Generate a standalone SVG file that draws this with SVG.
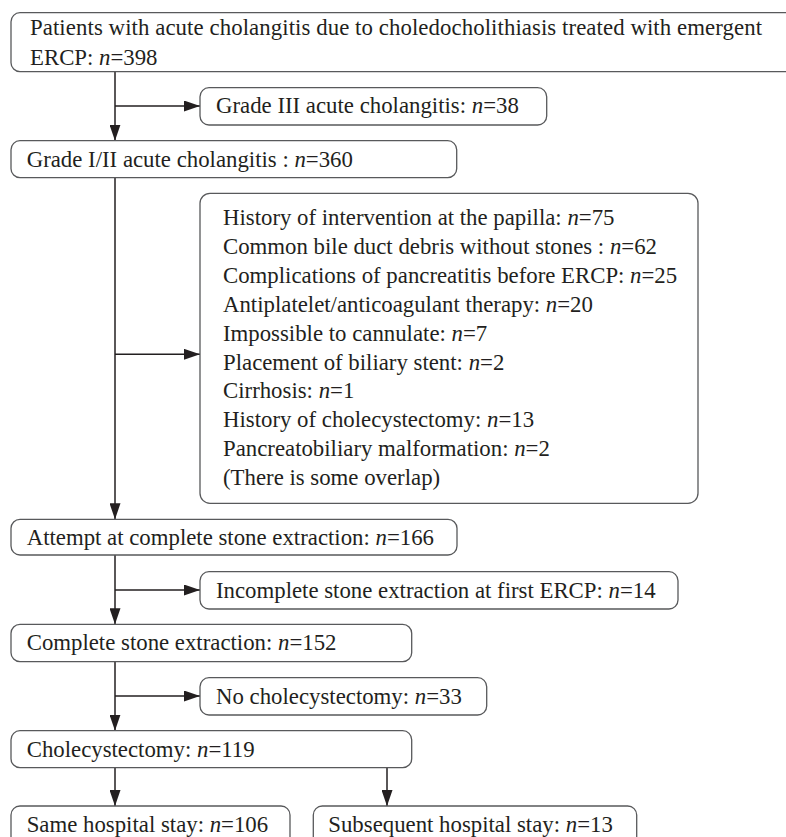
<svg xmlns="http://www.w3.org/2000/svg" width="786" height="837" viewBox="0 0 786 837">
<style>
.box{fill:#fff;stroke:#58595b;stroke-width:1.3}
.t{font-family:"Liberation Serif","Times New Roman",serif;font-size:22.8px;fill:#231f20}
.i{font-style:italic}
.c{fill:none;stroke:#231f20;stroke-width:1.5}
</style>
<defs>
<marker id="ah" markerUnits="userSpaceOnUse" markerWidth="16" markerHeight="11" refX="16" refY="5.5" orient="auto">
<path d="M0,0 L16,5.5 L0,11 Z" fill="#231f20"/>
</marker>
</defs>
<rect width="786" height="837" fill="#fff"/>
<g id="connectors">
<line class="c" x1="115" y1="72" x2="115" y2="140.7" marker-end="url(#ah)"/>
<line class="c" x1="115" y1="106" x2="200" y2="106" marker-end="url(#ah)"/>
<line class="c" x1="115" y1="178" x2="115" y2="519.3" marker-end="url(#ah)"/>
<line class="c" x1="115" y1="354.3" x2="200" y2="354.3" marker-end="url(#ah)"/>
<line class="c" x1="115" y1="555" x2="115" y2="624.3" marker-end="url(#ah)"/>
<line class="c" x1="115" y1="590" x2="200" y2="590" marker-end="url(#ah)"/>
<line class="c" x1="115" y1="662" x2="115" y2="730.7" marker-end="url(#ah)"/>
<line class="c" x1="115" y1="696" x2="200" y2="696" marker-end="url(#ah)"/>
<line class="c" x1="115" y1="768" x2="115" y2="806" marker-end="url(#ah)"/>
<line class="c" x1="387" y1="768" x2="387" y2="806" marker-end="url(#ah)"/>
</g>
<g id="n1">
<rect class="box" x="11" y="12.7" width="800" height="59" rx="9"/>
<text class="t" x="30" y="35" textLength="732" lengthAdjust="spacing">Patients with acute cholangitis due to choledocholithiasis treated with emergent</text>
<text class="t" x="30" y="65">ERCP: <tspan class="i">n</tspan>=398</text>
</g>
<g id="n2">
<rect class="box" x="200" y="87.7" width="346.7" height="37.3" rx="9"/>
<text class="t" x="216" y="113.3">Grade III acute cholangitis: <tspan class="i">n</tspan>=38</text>
</g>
<g id="n3">
<rect class="box" x="11" y="140.7" width="445.7" height="37" rx="9"/>
<text class="t" x="26.7" y="166.7">Grade I/II acute cholangitis : <tspan class="i">n</tspan>=360</text>
</g>
<g id="n4">
<rect class="box" x="200" y="193.3" width="498" height="310" rx="10"/>
<text class="t" x="223" y="225">History of intervention at the papilla: <tspan class="i">n</tspan>=75</text>
<text class="t" x="223" y="253.9">Common bile duct debris without stones : <tspan class="i">n</tspan>=62</text>
<text class="t" x="223" y="282.8">Complications of pancreatitis before ERCP: <tspan class="i">n</tspan>=25</text>
<text class="t" x="223" y="311.7">Antiplatelet/anticoagulant therapy: <tspan class="i">n</tspan>=20</text>
<text class="t" x="223" y="340.6">Impossible to cannulate: <tspan class="i">n</tspan>=7</text>
<text class="t" x="223" y="369.5">Placement of biliary stent: <tspan class="i">n</tspan>=2</text>
<text class="t" x="223" y="398.4">Cirrhosis: <tspan class="i">n</tspan>=1</text>
<text class="t" x="223" y="427.3">History of cholecystectomy: <tspan class="i">n</tspan>=13</text>
<text class="t" x="223" y="456.2">Pancreatobiliary malformation: <tspan class="i">n</tspan>=2</text>
<text class="t" x="223" y="485.1">(There is some overlap)</text>
</g>
<g id="n5">
<rect class="box" x="11" y="519.3" width="446" height="35.7" rx="9"/>
<text class="t" x="26.7" y="544.5">Attempt at complete stone extraction: <tspan class="i">n</tspan>=166</text>
</g>
<g id="n6">
<rect class="box" x="200" y="571.7" width="478" height="37.3" rx="9"/>
<text class="t" x="216" y="597.5">Incomplete stone extraction at first ERCP: <tspan class="i">n</tspan>=14</text>
</g>
<g id="n7">
<rect class="box" x="11" y="624.3" width="400.7" height="37.4" rx="9"/>
<text class="t" x="26.7" y="650">Complete stone extraction: <tspan class="i">n</tspan>=152</text>
</g>
<g id="n8">
<rect class="box" x="200" y="677.7" width="286.7" height="37.3" rx="9"/>
<text class="t" x="216" y="703.5">No cholecystectomy: <tspan class="i">n</tspan>=33</text>
</g>
<g id="n9">
<rect class="box" x="11" y="730.7" width="400.7" height="37" rx="9"/>
<text class="t" x="26.7" y="756.5">Cholecystectomy: <tspan class="i">n</tspan>=119</text>
</g>
<g id="n10">
<rect class="box" x="11" y="806" width="279" height="50" rx="9"/>
<text class="t" x="26.7" y="831.5">Same hospital stay: <tspan class="i">n</tspan>=106</text>
</g>
<g id="n11">
<rect class="box" x="313.3" y="806" width="323.4" height="50" rx="9"/>
<text class="t" x="328.3" y="831.5">Subsequent hospital stay: <tspan class="i">n</tspan>=13</text>
</g>
</svg>
